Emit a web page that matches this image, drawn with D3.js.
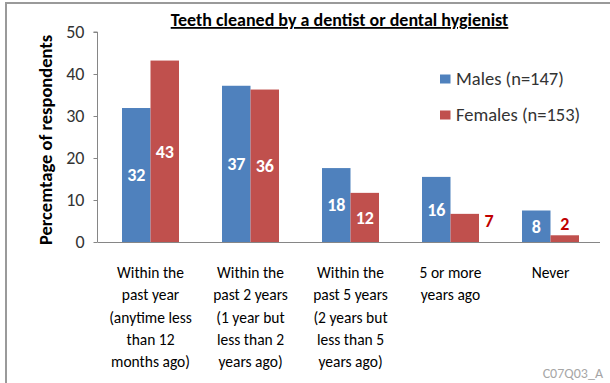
<!DOCTYPE html>
<html><head><meta charset="utf-8">
<script src="https://cdn.jsdelivr.net/npm/d3@7"></script>
<style>
html,body{margin:0;padding:0;background:#fff;}
svg{display:block;font-family:Carlito, Lato, "Open Sans", sans-serif;}
</style></head>
<body>
<script>
const categories = [
  ["Within the","past year","(anytime less","than 12","months ago)"],
  ["Within the","past 2 years","(1 year but","less than 2","years ago)"],
  ["Within the","past 5 years","(2 years but","less than 5","years ago)"],
  ["5 or more","years ago"],
  ["Never"]
];
const catKeys = ["c1","c2","c3","c4","c5"];
const seriesNames = ["Males (n=147)","Females (n=153)"];
const males = [31.9, 37.2, 17.6, 15.5, 7.5];
const females = [43.2, 36.3, 11.7, 6.7, 1.6];
const yTicks = [0,10,20,30,40,50];
const title = "Teeth cleaned by a dentist or dental hygienist";
const yTitle = "Percemtage of respondents";
const footer = "C07Q03_A";
const colors = ["#4f81bd","#c0504d"];

const W = 610, H = 383;
const svg = d3.select("body").append("svg").attr("width",W).attr("height",H);

// frame
svg.append("line").attr("x1",6).attr("x2",6).attr("y1",2).attr("y2",H).attr("stroke","#9a9a9a").attr("stroke-width",2);
svg.append("line").attr("x1",5).attr("x2",W).attr("y1",3).attr("y2",3).attr("stroke","#9a9a9a").attr("stroke-width",2);

const x0 = d3.scaleBand().domain(catKeys).range([100,601]).paddingInner(0.43).paddingOuter(0.22);
const x1 = d3.scaleBand().domain([0,1]).range([0,x0.bandwidth()]);
const y = d3.scaleLinear().domain([0,50]).range([242,32]);

// y axis
const yAxis = svg.append("g").attr("transform","translate(97.5,0)")
  .call(d3.axisLeft(y).tickValues(yTicks).tickSize(4).tickPadding(9));
yAxis.select(".domain").attr("stroke","#868686").attr("d","M-4,"+y(50)+"H0V"+y(0));
yAxis.selectAll(".tick line").attr("stroke","#868686");
yAxis.selectAll(".tick text").attr("font-size",18).attr("fill","#333").attr("font-family","Carlito, Lato, sans-serif");

// x axis line
svg.append("line").attr("x1",97.5).attr("x2",600).attr("y1",y(0)+0.5).attr("y2",y(0)+0.5).attr("stroke","#868686");

const data = catKeys.map((k,i)=>({key:k, vals:[males[i], females[i]]}));

const groups = svg.selectAll("g.grp").data(data).join("g").attr("class","grp")
  .attr("transform",d=>`translate(${x0(d.key)},0)`);
groups.selectAll("rect").data(d=>d.vals.map((v,s)=>({v,s}))).join("rect")
  .attr("x",d=>x1(d.s)).attr("width",x1.bandwidth())
  .attr("y",d=>y(d.v)).attr("height",d=>y(0)-y(d.v))
  .attr("fill",d=>colors[d.s]);

// value labels
groups.selectAll("text.val").data(d=>d.vals.map((v,s)=>({v,s}))).join("text").attr("class","val")
  .text(d=>Math.round(d.v))
  .attr("font-weight","bold").attr("font-size",18)
  .attr("text-anchor","middle")
  .each(function(d){
    const t = d3.select(this);
    const cx = x1(d.s) + x1.bandwidth()/2;
    if (d.s===1 && d.v < 5) {
      t.attr("x",cx).attr("y",y(d.v)-12).attr("dy","0.35em").attr("fill","#c00000");
    } else if (d.s===1 && d.v < 10) {
      t.attr("x",x1(d.s)+x1.bandwidth()+10).attr("y",y(d.v)+7).attr("dy","0.35em").attr("fill","#c00000");
    } else {
      t.attr("x",cx).attr("y",(y(d.v)+y(0))/2).attr("dy","0.35em").attr("fill","#fff");
    }
  });

// category labels
svg.selectAll("text.cat").data(data).join("text").attr("class","cat")
  .attr("text-anchor","middle").attr("font-size",15.5).attr("fill","#000")
  .attr("transform",d=>`translate(${x0(d.key)+x0.bandwidth()/2},278)`)
  .each(function(d,i){
    d3.select(this).selectAll("tspan").data(categories[i]).join("tspan")
      .attr("x",0).attr("y",(l,j)=>j*22.3).text(l=>l);
  });

// title
svg.append("text").attr("x",339.5).attr("y",26).attr("text-anchor","middle")
  .attr("font-weight","bold").attr("font-size",18).attr("text-decoration","underline")
  .attr("fill","#000").text(title);

// y title
svg.append("text").attr("transform","translate(52,140) rotate(-90)").attr("text-anchor","middle")
  .attr("font-weight","bold").attr("font-size",18.5).attr("fill","#000").text(yTitle);

// legend
const leg = svg.selectAll("g.leg").data(seriesNames).join("g").attr("class","leg")
  .attr("transform",(d,i)=>`translate(440,${79+i*36})`);
leg.append("rect").attr("x",0).attr("y",-4.5).attr("width",10.5).attr("height",9).attr("fill",(d,i)=>colors[i]);
leg.append("text").attr("x",16).attr("y",0).attr("dy","0.35em").attr("font-size",18.5).attr("fill","#333").text(d=>d);

// footer
svg.append("text").attr("x",603).attr("y",373).attr("dy","0.35em").attr("text-anchor","end")
  .attr("font-size",14).attr("fill","#a6a6a6").text(footer);
</script>
</body></html>
